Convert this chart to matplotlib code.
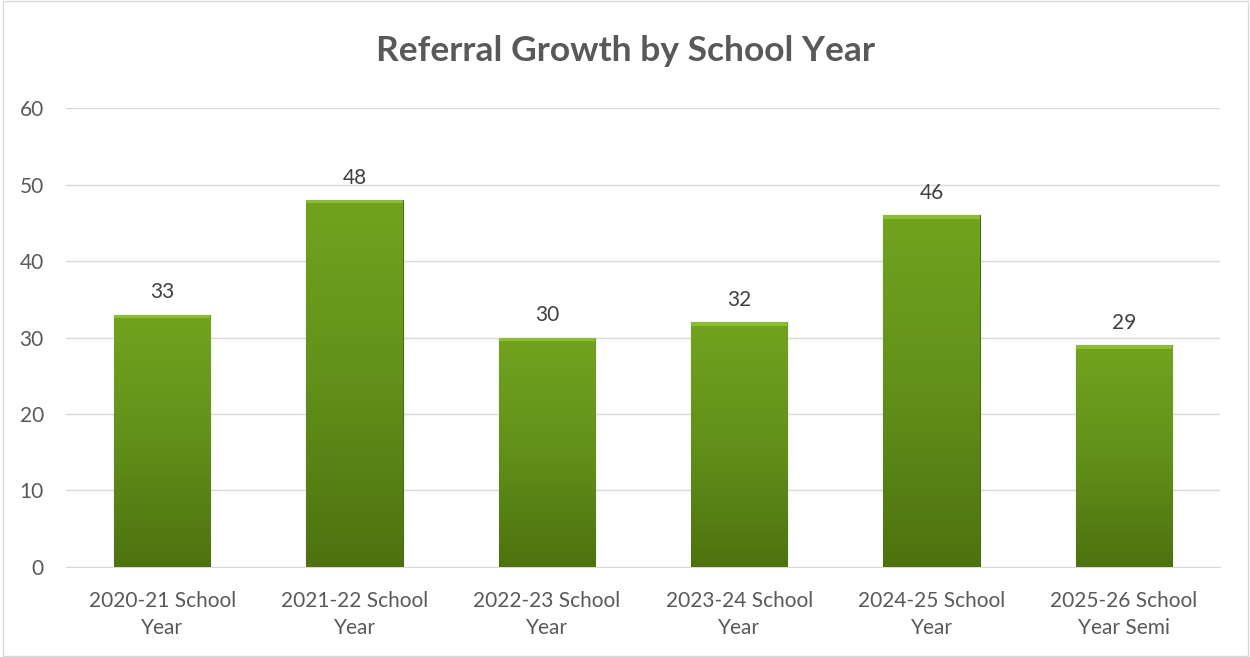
import numpy as np
import matplotlib
matplotlib.use('Agg')
import matplotlib.pyplot as plt
from matplotlib.colors import LinearSegmentedColormap
from matplotlib.patches import Rectangle

categories = ['2020-21 School\nYear', '2021-22 School\nYear', '2022-23 School\nYear',
              '2023-24 School\nYear', '2024-25 School\nYear', '2025-26 School\nYear Semi']
referrals = [33, 48, 30, 32, 46, 29]
yticks = [0, 10, 20, 30, 40, 50, 60]

plt.rcParams['font.family'] = ['Lato', 'DejaVu Sans']
grey = '#595959'

fig = plt.figure(figsize=(12.5, 6.57), dpi=100)
ax = fig.add_axes([0.0528, 0.137, 0.9232, 0.6986])

x = np.arange(len(categories))
bars = ax.bar(x, referrals, width=0.5, color='#659419', edgecolor='#4a6b10', linewidth=0.8, zorder=3)

# vertical gradient inside each bar
cmap = LinearSegmentedColormap.from_list('grn', ['#4d720f', '#62901a', '#72a31e'])
grad = np.linspace(0, 1, 256).reshape(-1, 1)
for b in bars:
    x0, w, h = b.get_x(), b.get_width(), b.get_height()
    im = ax.imshow(grad, cmap=cmap, aspect='auto', origin='lower',
                   extent=[x0, x0 + w, 0, h], zorder=3.5)
    im.set_clip_path(b)
    # light bevel along top
    ax.add_patch(Rectangle((x0, h - 0.45), w, 0.45, color='#8fc435', alpha=0.85, zorder=4, linewidth=0))
    ax.text(x0 + w / 2, h + 1.6, str(h), ha='center', va='bottom', fontsize=15, color='#404040')

ax.set_xlim(-0.5, len(categories) - 0.5)
ax.set_ylim(0, 60)
ax.set_yticks(yticks)
ax.set_xticks(x)
ax.set_xticklabels(categories, fontsize=15, color=grey, linespacing=1.45)
ax.tick_params(axis='y', labelsize=15, labelcolor=grey, length=0, pad=16)
ax.tick_params(axis='x', length=0, pad=17)
ax.grid(axis='y', color='#d9d9d9', linewidth=1, zorder=0)
for s in ['top', 'right', 'left']:
    ax.spines[s].set_visible(False)
ax.spines['bottom'].set_color('#d9d9d9')

fig.text(0.5, 0.922, 'Referral Growth by School Year', ha='center', va='center',
         fontsize=25.5, fontweight='bold', color=grey)

fig.patches.append(Rectangle((0.002, 0.002), 0.996, 0.996, transform=fig.transFigure,
                             fill=False, edgecolor='#d9d9d9', linewidth=1))

fig.savefig('out.png', dpi=100)
